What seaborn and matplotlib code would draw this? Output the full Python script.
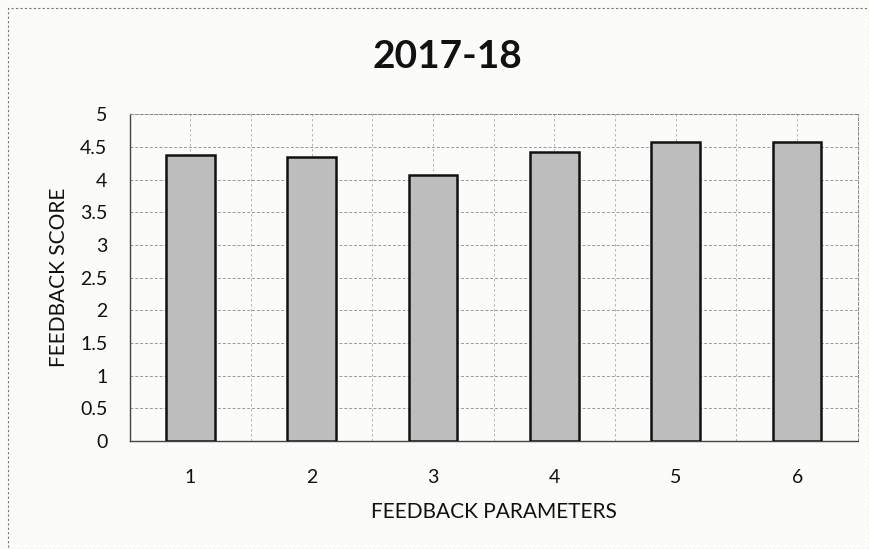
import matplotlib
matplotlib.use("Agg")
import matplotlib.pyplot as plt
import seaborn as sns
import pandas as pd
from matplotlib.ticker import MultipleLocator, FuncFormatter

categories = ["1", "2", "3", "4", "5", "6"]
scores = [4.37, 4.34, 4.07, 4.42, 4.58, 4.57]
title = "2017-18"
xlabel = "FEEDBACK PARAMETERS"
ylabel = "FEEDBACK SCORE"

df = pd.DataFrame({"param": categories, "score": scores})

sns.set_theme(style="white")
plt.rcParams['font.family'] = ['Lato', 'DejaVu Sans']

fig = plt.figure(figsize=(8.7, 5.49), dpi=100)
fig.patch.set_facecolor("#fbfbf9")
ax = fig.add_axes([0.149, 0.197, 0.837, 0.595])
ax.set_facecolor("#fbfbf9")

sns.barplot(data=df, x="param", y="score", color="#bdbdbd", edgecolor="#111111",
            linewidth=1.8, width=0.4, saturation=1, ax=ax, zorder=3)

ax.set_ylim(0, 5)
ax.set_xlim(-0.5, 5.5)
ax.yaxis.set_major_locator(MultipleLocator(0.5))
ax.yaxis.set_major_formatter(FuncFormatter(lambda v, p: f"{v:g}"))
ax.set_xticks([i * 0.5 - 0.5 for i in range(13)], minor=True)
ax.grid(True, axis="y", which="major", color="#999999", linestyle=(0, (3, 2)), linewidth=0.7, zorder=0)
ax.grid(True, axis="x", which="both", color="#aaaaaa", linestyle=(0, (3, 3)), linewidth=0.6, zorder=0)
ax.tick_params(axis="both", which="both", length=0, labelsize=14, colors="#111111")
ax.tick_params(axis="x", pad=20)
ax.tick_params(axis="y", pad=16)

for s in ["left", "bottom"]:
    ax.spines[s].set_color("#444444")
    ax.spines[s].set_linewidth(1.0)
    ax.spines[s].set_linestyle((0, (4, 1)))
for s in ["top", "right"]:
    ax.spines[s].set_color("#888888")
    ax.spines[s].set_linewidth(0.7)
    ax.spines[s].set_linestyle((0, (3, 2)))

ax.set_xlabel(xlabel, fontsize=15, labelpad=12, color="#111111")
ax.set_ylabel(ylabel, fontsize=15, labelpad=8, color="#111111")
fig.text(0.514, 0.897, title, ha="center", va="center", fontsize=28, fontweight="bold", color="#111111")

fig.add_artist(plt.Rectangle((0.009, 0.0), 0.99, 0.985, transform=fig.transFigure,
                             fill=False, edgecolor="#777777", linewidth=0.8, linestyle=(0, (2, 2))))

fig.savefig("out.png", dpi=100, facecolor=fig.get_facecolor())
